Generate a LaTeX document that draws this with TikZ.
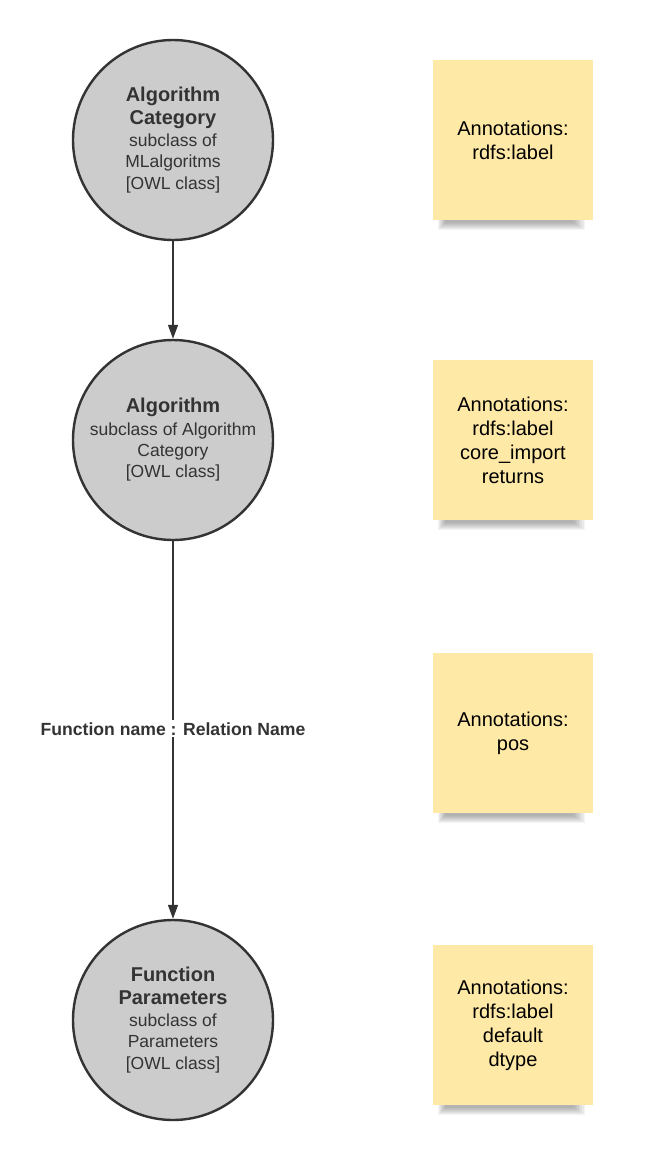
\documentclass[tikz,border=0pt]{standalone}
\usepackage{fontspec}
\setmainfont{Liberation Sans}
\usetikzlibrary{arrows.meta}
\definecolor{circfill}{HTML}{CCCCCC}
\definecolor{dark}{HTML}{333333}
\definecolor{sticky}{HTML}{FFE9A6}
\tikzset{
  cls/.style={circle, draw=dark, line width=2.4pt, fill=circfill, minimum size=200pt, inner sep=0pt, align=center, text=dark, font=\fontsize{17.5}{21.3}\selectfont},
  note/.style={rectangle, fill=sticky, minimum width=160pt, minimum height=160pt, inner sep=0pt, align=center, font=\fontsize{20}{24}\selectfont},
  conn/.style={draw=dark, line width=1.4pt, -{Triangle[width=10pt,length=14pt]}},
  rel/.style={fill=white, text=dark, font=\bfseries\fontsize{17.6}{18}\selectfont, inner sep=2pt}
}
\newcommand{\ttl}[1]{{\bfseries\fontsize{20}{23}\selectfont #1}}
\newcommand{\stickyshadow}[1]{%
  \foreach \k in {0,...,7}{
    \fill[black, opacity=0.045] ([xshift={5pt+\k*1pt}, yshift={0pt}]#1.south west) rectangle ([xshift={-8pt-\k*1.6pt}, yshift={-10pt+\k*1pt}]#1.south east);
  }}
\begin{document}
\begin{tikzpicture}[x=1pt,y=-1pt]
\useasboundingbox (0,0) rectangle (653,1165);
\coordinate (s1) at (513,140);
\coordinate (s2) at (513,440);
\coordinate (s3) at (513,733);
\coordinate (s4) at (513,1025);
\node[note] (n1) at (s1) {Annotations:\\rdfs:label};
\node[note] (n2) at (s2) {Annotations:\\rdfs:label\\core\_import\\returns};
\node[note] (n3) at (s3) {Annotations:\\pos};
\node[note] (n4) at (s4) {Annotations:\\rdfs:label\\default\\dtype};
\stickyshadow{n1}
\stickyshadow{n2}
\stickyshadow{n3}
\stickyshadow{n4}

\node[cls] (c1) at (173,140) {\ttl{Algorithm}\\[1pt]\ttl{Category}\\[1pt]subclass of\\MLalgoritms\\{[OWL class]}};
\node[cls] (c2) at (173,440) {\ttl{Algorithm}\\[1pt]subclass of Algorithm\\Category\\{[OWL class]}};
\node[cls] (c3) at (173,1020) {\ttl{Function}\\[1pt]\ttl{Parameters}\\[1pt]subclass of\\Parameters\\{[OWL class]}};

\draw[conn] (c1) -- (c2);
\draw[conn] (c2) -- node[rel, pos=0.497] (lab) {Function name : Relation Name} (c3);
\end{tikzpicture}
\end{document}
